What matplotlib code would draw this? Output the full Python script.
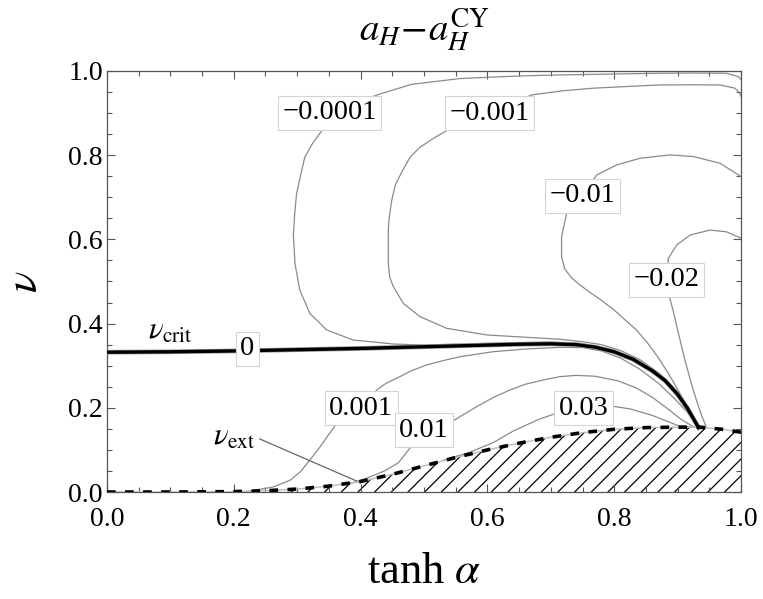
import matplotlib
matplotlib.use("Agg")
import matplotlib.pyplot as plt

plt.rcParams['font.family'] = ['Liberation Serif', 'DejaVu Serif']
plt.rcParams['mathtext.fontset'] = 'stix'
plt.rcParams['hatch.color'] = 'black'
plt.rcParams['hatch.linewidth'] = 0.9

# nu_crit (the zero contour)
crit_x = [0.0, 0.1, 0.2, 0.3, 0.4, 0.5, 0.6, 0.65, 0.7, 0.74, 0.77, 0.8, 0.83, 0.86, 0.88, 0.9, 0.915, 0.933]
crit_y = [0.332, 0.333, 0.335, 0.338, 0.341, 0.345, 0.349, 0.351, 0.352, 0.350, 0.344, 0.333, 0.315, 0.288,
          0.265, 0.232, 0.200, 0.153]

# nu_ext (extremal boundary)
ext_x = [0.0, 0.1, 0.2, 0.25, 0.3, 0.35, 0.4, 0.45, 0.5, 0.55, 0.6, 0.65, 0.7,
         0.75, 0.8, 0.85, 0.9, 0.935, 0.97, 1.0]
ext_y = [0.0, 0.0, 0.001, 0.003, 0.007, 0.014, 0.025, 0.042, 0.062, 0.082, 0.100, 0.116, 0.130,
         0.141, 0.149, 0.153, 0.154, 0.154, 0.149, 0.142]

# contour levels
m0001_x = [1.0, 0.9957, 0.977, 0.92, 0.872, 0.7145, 0.65, 0.557, 0.48, 0.43, 0.351, 0.339, 0.325, 0.312,
           0.305, 0.299, 0.296, 0.294, 0.2965, 0.304, 0.32, 0.3465, 0.388, 0.4516, 0.5, 0.6, 0.7, 0.75,
           0.8, 0.84, 0.87, 0.9, 0.933]
m0001_y = [0.98, 0.9865, 0.9945, 0.995, 0.9945, 0.9905, 0.988, 0.982, 0.968, 0.945, 0.901, 0.858, 0.83, 0.795,
           0.75, 0.708, 0.66, 0.61, 0.543, 0.48, 0.424, 0.385, 0.361, 0.3515, 0.349, 0.353, 0.356, 0.352,
           0.337, 0.308, 0.274, 0.235, 0.154]

m001_x = [1.0, 0.998, 0.9905, 0.9667, 0.92, 0.872, 0.82, 0.767, 0.72, 0.6698, 0.603, 0.54, 0.515, 0.493,
          0.478, 0.466, 0.455, 0.449, 0.445, 0.4437, 0.4437, 0.446, 0.4516, 0.4674, 0.4937, 0.5358, 0.5989,
          0.662, 0.7145, 0.75, 0.78, 0.81, 0.84, 0.87, 0.89, 0.91, 0.935]
m001_y = [0.94, 0.947, 0.959, 0.9667, 0.967, 0.9667, 0.963, 0.959, 0.953, 0.943, 0.9, 0.862, 0.84, 0.818,
          0.795, 0.763, 0.73, 0.692, 0.65, 0.622, 0.543, 0.51, 0.4877, 0.448, 0.4165, 0.3888, 0.373,
          0.3674, 0.3627, 0.357, 0.350, 0.336, 0.315, 0.283, 0.254, 0.215, 0.154]

m01_x = [1.0, 0.967, 0.925, 0.888, 0.8407, 0.8038, 0.7723, 0.7505, 0.725, 0.717, 0.717, 0.722, 0.732, 0.743,
         0.76, 0.78, 0.80, 0.82, 0.835, 0.853, 0.87, 0.886, 0.9, 0.913, 0.924, 0.935]
m01_y = [0.749, 0.7807, 0.7966, 0.8005, 0.7926, 0.7767, 0.753, 0.7035, 0.662, 0.6065, 0.559, 0.53, 0.51, 0.495,
         0.476, 0.455, 0.432, 0.405, 0.385, 0.353, 0.318, 0.28, 0.244, 0.209, 0.18, 0.154]

m02_x = [1.0, 0.977, 0.951, 0.92, 0.8986, 0.8853, 0.883, 0.886, 0.893, 0.9, 0.912, 0.925, 0.937, 0.945]
m02_y = [0.6026, 0.618, 0.622, 0.6105, 0.5867, 0.555, 0.504, 0.47, 0.43, 0.385, 0.31, 0.24, 0.185, 0.155]

p001_x = [0.22, 0.236, 0.262, 0.289, 0.305, 0.32, 0.335, 0.347, 0.363, 0.401, 0.4254, 0.44, 0.462, 0.48,
          0.504, 0.53, 0.5568, 0.6093, 0.662, 0.7145, 0.75, 0.78, 0.81, 0.84, 0.87, 0.895, 0.915, 0.933]
p001_y = [0.001, 0.005, 0.012, 0.028, 0.048, 0.076, 0.105, 0.131, 0.164, 0.199, 0.2423, 0.258, 0.274, 0.288,
          0.3017, 0.312, 0.3214, 0.3333, 0.3397, 0.3436, 0.343, 0.335, 0.318, 0.292, 0.258, 0.222, 0.19, 0.154]

p01_x = [0.386, 0.41, 0.439, 0.46, 0.50, 0.5436, 0.583, 0.61, 0.6356, 0.66, 0.688, 0.7145, 0.74, 0.77,
         0.806, 0.835, 0.86, 0.885, 0.906, 0.926]
p01_y = [0.021, 0.033, 0.051, 0.07, 0.147, 0.167, 0.2026, 0.225, 0.2423, 0.256, 0.266, 0.274, 0.277, 0.275,
         0.264, 0.247, 0.225, 0.197, 0.172, 0.154]

p03_x = [0.53, 0.573, 0.61, 0.641, 0.68, 0.7145, 0.752, 0.793, 0.826, 0.86, 0.88, 0.9, 0.92]
p03_y = [0.075, 0.095, 0.118, 0.145, 0.172, 0.19, 0.199, 0.205, 0.197, 0.182, 0.17, 0.158, 0.154]

levels = [
    ("\u22120.0001", m0001_x, m0001_y, (0.351, 0.901)),
    ("\u22120.001", m001_x, m001_y, (0.603, 0.900)),
    ("\u22120.01", m01_x, m01_y, (0.7505, 0.7035)),
    ("\u22120.02", m02_x, m02_y, (0.883, 0.504)),
    ("0.001", p001_x, p001_y, (0.401, 0.199)),
    ("0.01", p01_x, p01_y, (0.500, 0.147)),
    ("0.03", p03_x, p03_y, (0.752, 0.199)),
]

fig = plt.figure(figsize=(7.63, 5.99), dpi=100)
ax = fig.add_axes([0.1402, 0.1786, 0.831, 0.703])

grey = '#8a8a8a'
box = dict(boxstyle='square,pad=0.16', facecolor='white', edgecolor='#d4d4d4', linewidth=0.8)

# hatched forbidden region
ax.fill_between(ext_x, 0, ext_y, facecolor='none', edgecolor='black', hatch='//', linewidth=0, zorder=1)

for lab, xs, ys, pos in levels:
    ax.plot(xs, ys, color=grey, lw=0.9, zorder=2)
    ax.text(pos[0], pos[1], lab, fontsize=20.5, ha='center', va='center', bbox=box, zorder=6)

ax.plot(crit_x, crit_y, color='#9a9a9a', lw=3.4, zorder=3)
ax.plot(crit_x, crit_y, color='black', lw=2.4, zorder=4)
ax.text(0.2216, 0.340, "0", fontsize=20.5, ha='center', va='center', bbox=box, zorder=6)

ax.plot(ext_x, ext_y, color='#bbbbbb', lw=1.0, zorder=3)
ax.plot(ext_x, ext_y, color='black', lw=2.6, dashes=(2.4, 2.6), zorder=4)

ax.text(0.10, 0.382, r'$\nu_{\mathrm{crit}}$', fontsize=22, ha='center', va='center')
ax.text(0.20, 0.131, r'$\nu_{\mathrm{ext}}$', fontsize=22, ha='center', va='center')
ax.plot([0.241, 0.40], [0.126, 0.022], color='#666666', lw=0.9, zorder=2)

ax.set_xlim(0, 1)
ax.set_ylim(0, 1)
ax.set_xticks([0.0, 0.2, 0.4, 0.6, 0.8, 1.0])
ax.set_yticks([0.0, 0.2, 0.4, 0.6, 0.8, 1.0])
ax.set_xticks([i * 0.05 for i in range(21)], minor=True)
ax.set_yticks([i * 0.05 for i in range(21)], minor=True)
ax.xaxis.set_major_formatter(matplotlib.ticker.FormatStrFormatter('%.1f'))
ax.yaxis.set_major_formatter(matplotlib.ticker.FormatStrFormatter('%.1f'))
ax.tick_params(which='both', direction='in', top=True, right=True, color='#555555', width=0.8)
ax.tick_params(which='major', length=6, labelsize=20, pad=3)
ax.tick_params(axis='x', which='major', pad=11)
ax.tick_params(which='minor', length=3.5)
for s in ax.spines.values():
    s.set_color('#555555')
    s.set_linewidth(0.9)

ax.set_xlabel(r'tanh $\alpha$', fontsize=32, labelpad=14)
ax.set_ylabel(r'$\nu$', fontsize=32, labelpad=16)
ax.set_title(r'$a_H\!-\!a_H^{\mathrm{CY}}$', fontsize=28, pad=22)

fig.savefig('out.png', dpi=100)
